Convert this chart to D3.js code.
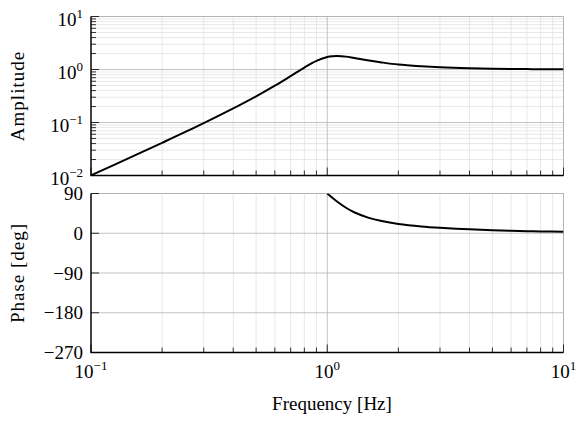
<!DOCTYPE html>
<html>
<head>
<meta charset="utf-8">
<script src="https://cdn.jsdelivr.net/npm/d3@7"></script>
<style>
  body { margin: 0; background: #fff; }
</style>
</head>
<body>
<div id="chart"></div>
<script>
// frequency response
const freqHz = [0.1, 0.15, 0.2, 0.3, 0.4, 0.5, 0.6, 0.7, 0.8, 0.9, 1.0, 1.05, 1.1, 1.15, 1.2, 1.3, 1.5, 1.7, 2, 2.5, 3, 4, 5, 6, 7, 8, 10];
const amplitude = [0.0101, 0.0229, 0.0414, 0.0971, 0.184, 0.311, 0.494, 0.752, 1.09, 1.46, 1.72, 1.785, 1.80, 1.785, 1.75, 1.65, 1.48, 1.36, 1.24, 1.15, 1.10, 1.054, 1.034, 1.024, 1.017, 1.013, 1.008];
const phaseFreqHz = [1.0, 1.05, 1.1, 1.2, 1.3, 1.5, 1.7, 2, 2.5, 3, 4, 5, 6, 7, 8, 10];
const phaseDeg = [90, 80.5, 71.8, 57.7, 47.5, 34.8, 27.6, 21.1, 15.4, 12.3, 8.8, 6.9, 5.7, 4.8, 4.2, 3.4];

const freqDecades = [0.1, 1, 10];
const freqDecadeLabels = ['\u22121', '0', '1'];
const ampDecades = [0.01, 0.1, 1, 10];
const ampDecadeLabels = ['\u22122', '\u22121', '0', '1'];
const phaseTicks = [90, 0, -90, -180, -270];
const phaseTickLabels = ['90', '0', '\u221290', '\u2212180', '\u2212270'];

const size = { width: 587, height: 422 };
const left = 91;
const right = 563.5;
const ampBox = { top: 16.5, bottom: 175.5 };
const phaseBox = { top: 193.5, bottom: 352.5 };

const serif = '"Liberation Serif", "Times New Roman", Tinos, "DejaVu Serif", serif';
const majorGrid = '#b4b4b4';
const minorGrid = '#e2e2e2';

const svg = d3.select('#chart')
  .append('svg')
  .attr('width', size.width)
  .attr('height', size.height)
  .attr('font-family', serif);

const x = d3.scaleLog().domain([0.1, 10]).range([left, right]);
const yAmp = d3.scaleLog().domain([0.01, 10]).range([ampBox.bottom, ampBox.top]);
const yPhase = d3.scaleLinear().domain([-270, 90]).range([phaseBox.bottom, phaseBox.top]);

// minor positions 2..9 within each decade
const minorsOf = (decades) => decades.slice(0, -1)
  .flatMap((d) => d3.range(2, 10).map((k) => d * k));
const freqMinor = minorsOf(freqDecades);
const ampMinor = minorsOf(ampDecades);

const drawPanel = (box, yScale, yMinor, yMajor, name) => {
  const g = svg.append('g').attr('class', name);

  // minor grid
  g.selectAll('.vminor').data(freqMinor).enter().append('line')
    .attr('x1', (d) => x(d)).attr('x2', (d) => x(d))
    .attr('y1', box.top).attr('y2', box.bottom)
    .attr('stroke', minorGrid).attr('stroke-width', 0.8);
  g.selectAll('.hminor').data(yMinor).enter().append('line')
    .attr('x1', left).attr('x2', right)
    .attr('y1', (d) => yScale(d)).attr('y2', (d) => yScale(d))
    .attr('stroke', minorGrid).attr('stroke-width', 0.8);

  // major grid
  g.selectAll('.vmajor').data(freqDecades).enter().append('line')
    .attr('x1', (d) => x(d)).attr('x2', (d) => x(d))
    .attr('y1', box.top).attr('y2', box.bottom)
    .attr('stroke', majorGrid).attr('stroke-width', 0.8);
  g.selectAll('.hmajor').data(yMajor).enter().append('line')
    .attr('x1', left).attr('x2', right)
    .attr('y1', (d) => yScale(d)).attr('y2', (d) => yScale(d))
    .attr('stroke', majorGrid).attr('stroke-width', 0.8);

  // box: top and right gray
  g.append('path')
    .attr('d', `M${left},${box.top}H${right}V${box.bottom}`)
    .attr('fill', 'none').attr('stroke', majorGrid).attr('stroke-width', 1);

  // ticks on bottom axis (pointing up)
  g.selectAll('.xtminor').data(freqMinor).enter().append('line')
    .attr('x1', (d) => x(d)).attr('x2', (d) => x(d))
    .attr('y1', box.bottom).attr('y2', box.bottom - 5)
    .attr('stroke', '#000').attr('stroke-width', 0.8);
  g.selectAll('.xtmajor').data(freqDecades).enter().append('line')
    .attr('x1', (d) => x(d)).attr('x2', (d) => x(d))
    .attr('y1', box.bottom).attr('y2', box.bottom - 8)
    .attr('stroke', '#000').attr('stroke-width', 0.8);

  // ticks on left axis (pointing right)
  g.selectAll('.ytminor').data(yMinor).enter().append('line')
    .attr('x1', left).attr('x2', left + 5)
    .attr('y1', (d) => yScale(d)).attr('y2', (d) => yScale(d))
    .attr('stroke', '#000').attr('stroke-width', 0.8);
  g.selectAll('.ytmajor').data(yMajor).enter().append('line')
    .attr('x1', left).attr('x2', left + 8)
    .attr('y1', (d) => yScale(d)).attr('y2', (d) => yScale(d))
    .attr('stroke', '#000').attr('stroke-width', 0.8);

  // left and bottom axis lines
  g.append('path')
    .attr('d', `M${left},${box.top}V${box.bottom}H${right}`)
    .attr('fill', 'none').attr('stroke', '#000').attr('stroke-width', 1.4);

  return g;
};

const ampPanel = drawPanel(ampBox, yAmp, ampMinor, ampDecades, 'amp');
const phasePanel = drawPanel(phaseBox, yPhase, [], phaseTicks, 'phase');

// clip the curves to their boxes
const defs = svg.append('defs');
[['clipAmp', ampBox], ['clipPhase', phaseBox]].forEach(([id, box]) => {
  defs.append('clipPath').attr('id', id)
    .append('rect')
    .attr('x', left).attr('y', box.top)
    .attr('width', right - left).attr('height', box.bottom - box.top);
});

const ampLine = d3.line()
  .x((d, i) => x(freqHz[i]))
  .y((d) => yAmp(d))
  .curve(d3.curveCatmullRom.alpha(0.5));

ampPanel.append('path')
  .datum(amplitude)
  .attr('clip-path', 'url(#clipAmp)')
  .attr('d', ampLine)
  .attr('fill', 'none')
  .attr('stroke', '#000')
  .attr('stroke-width', 2);

const phaseLine = d3.line()
  .x((d, i) => x(phaseFreqHz[i]))
  .y((d) => yPhase(d))
  .curve(d3.curveCatmullRom.alpha(0.5));

phasePanel.append('path')
  .datum(phaseDeg)
  .attr('clip-path', 'url(#clipPhase)')
  .attr('d', phaseLine)
  .attr('fill', 'none')
  .attr('stroke', '#000')
  .attr('stroke-width', 2);

// power-of-ten label: "10" with a raised exponent
const powerLabel = (sel, exps) => {
  sel.append('tspan').text('10');
  sel.append('tspan')
    .attr('dy', -8)
    .attr('font-size', 13)
    .text((d, i) => exps[i]);
};

// amplitude y tick labels
svg.append('g').selectAll('text').data(ampDecades).enter().append('text')
  .attr('x', 83)
  .attr('y', (d) => yAmp(d) + 9)
  .attr('text-anchor', 'end')
  .attr('font-size', 19)
  .call(powerLabel, ampDecadeLabels);

// phase y tick labels
svg.append('g').selectAll('text').data(phaseTicks).enter().append('text')
  .attr('x', 83)
  .attr('y', (d) => yPhase(d) + 6.5)
  .attr('text-anchor', 'end')
  .attr('font-size', 19)
  .text((d, i) => phaseTickLabels[i]);

// frequency tick labels
svg.append('g').selectAll('text').data(freqDecades).enter().append('text')
  .attr('x', (d) => x(d))
  .attr('y', 378)
  .attr('text-anchor', 'middle')
  .attr('font-size', 19)
  .call(powerLabel, freqDecadeLabels);

// axis titles
svg.append('text')
  .attr('x', 332)
  .attr('y', 410)
  .attr('text-anchor', 'middle')
  .attr('font-size', 19)
  .text('Frequency [Hz]');

svg.append('text')
  .attr('transform', `translate(24,${(ampBox.top + ampBox.bottom) / 2}) rotate(-90)`)
  .attr('text-anchor', 'middle')
  .attr('font-size', 19)
  .attr('letter-spacing', 1)
  .text('Amplitude');

svg.append('text')
  .attr('transform', `translate(24,${(phaseBox.top + phaseBox.bottom) / 2}) rotate(-90)`)
  .attr('text-anchor', 'middle')
  .attr('font-size', 19)
  .attr('letter-spacing', 1)
  .text('Phase [deg]');
</script>
</body>
</html>
